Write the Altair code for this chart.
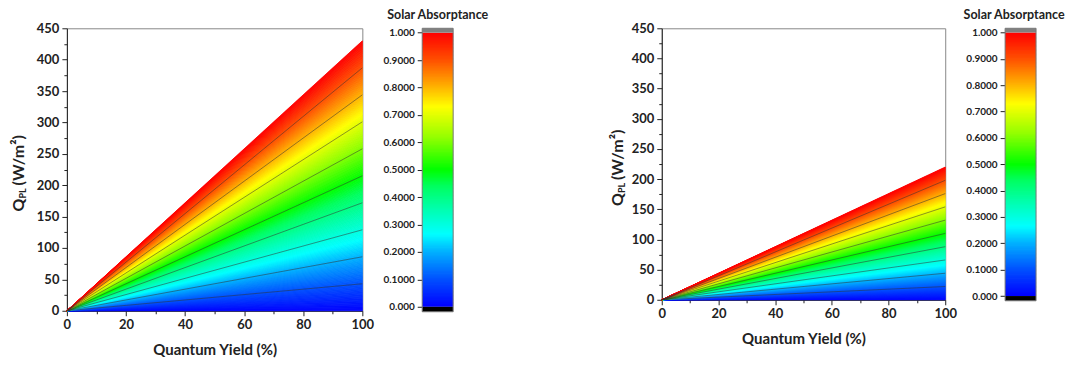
import altair as alt
import numpy as np
import pandas as pd

# ---------------- data ----------------
panel_q_max = [430, 220]          # Q_PL (W/m^2) at QY = 100 %, absorptance = 1
qy_range = [0, 100]               # Quantum yield extent (%)
contour_levels = [0.1, 0.2, 0.3, 0.4, 0.5, 0.6, 0.7, 0.8, 0.9]
cbar_ticks = [0.0, 0.1, 0.2, 0.3, 0.4, 0.5, 0.6, 0.7, 0.8, 0.9, 1.0]
x_ticks = [0, 10, 20, 30, 40, 50, 60, 70, 80, 90, 100]
y_ticks = [0, 25, 50, 75, 100, 125, 150, 175, 200, 225, 250, 275, 300,
           325, 350, 375, 400, 425, 450]
cmap_stops = [0.0, 0.10, 0.20, 0.265, 0.35, 0.44, 0.50, 0.62, 0.73, 0.82, 0.90, 1.0]
cmap_colors = ["#0000ff", "#0050ff", "#00b0ff", "#00ffff", "#00ffb4", "#00ff60",
               "#00ff00", "#96ff00", "#ffff00", "#ffa000", "#ff5000", "#ff0000"]
band_step = 0.005                 # resolution of the colour fill

FONT = "Lato"
TXT = "#222222"
XTITLE = "Quantum Yield (%)"
cscale = alt.Scale(domain=cmap_stops, range=cmap_colors, interpolate="rgb")

edges = np.round(np.arange(0, 1 + band_step / 2, band_step), 4)


def band_df(qmax):
    rows = []
    for i in range(len(edges) - 1):
        lo, hi = float(edges[i]), float(edges[i + 1])
        mid = (lo + hi) / 2
        rows.append(dict(band=i, a=mid, qy=qy_range[0], lo=0.0, hi=0.0))
        rows.append(dict(band=i, a=mid, qy=qy_range[1], lo=qmax * lo, hi=qmax * hi))
    return pd.DataFrame(rows)


def ylabel_piece(text, size, dx, dy):
    return alt.Chart(pd.DataFrame({"t": [0]})).mark_text(
        text=text, angle=270, align="left", baseline="middle",
        font=FONT, fontSize=size, fontWeight="bold", color=TXT
    ).encode(x=alt.value(dx), y=alt.value(dy))


def panel(qmax, w, h, tx):
    xs = alt.Scale(domain=qy_range, nice=False, zero=False)
    ys = alt.Scale(domain=[0, 450], nice=False)
    xaxis = alt.Axis(
        values=x_ticks, labelExpr="datum.value % 20 == 0 ? datum.label : ''",
        tickSize={"condition": {"test": "datum.value % 20 != 0", "value": 3}, "value": 5},
        labelPadding=3, labelFontSize=13, titleFontSize=15, titlePadding=11,
        labelFlush=False, labelOverlap=False, grid=False, title=XTITLE)
    yaxis = alt.Axis(
        values=y_ticks, labelExpr="datum.value % 50 == 0 ? datum.label : ''",
        tickSize={"condition": {"test": "datum.value % 50 != 0", "value": 3}, "value": 5},
        labelPadding=3, labelFontSize=13, labelFlush=False, labelOverlap=False,
        grid=False, title=None)
    bands = alt.Chart(band_df(qmax)).mark_area(strokeWidth=0.8).encode(
        x=alt.X("qy:Q", scale=xs, axis=xaxis),
        y=alt.Y("lo:Q", scale=ys, axis=yaxis),
        y2="hi:Q",
        fill=alt.Fill("a:Q", scale=cscale, legend=None),
        stroke=alt.Stroke("a:Q", scale=cscale, legend=None),
        detail="band:N",
    )
    cdf = pd.DataFrame({"level": contour_levels})
    cdf["x0"] = qy_range[0]
    cdf["y0"] = 0.0
    cdf["x1"] = qy_range[1]
    cdf["y1"] = qmax * cdf["level"]
    lines = alt.Chart(cdf).mark_rule(color="#333333", strokeWidth=0.7, opacity=0.75).encode(
        x=alt.X("x0:Q", scale=xs, axis=xaxis), y=alt.Y("y0:Q", scale=ys, axis=yaxis),
        x2="x1:Q", y2="y1:Q")
    c = h / 2
    title = [
        ylabel_piece("Q", 16, tx, c + 42),
        ylabel_piece("PL", 9, tx + 4, c + 29),
        ylabel_piece("(W/m²)", 16, tx, c + 16),
    ]
    return alt.layer(bands, lines, *title).properties(
        width=w, height=h, view=alt.ViewBackground(stroke="#888888", strokeWidth=1))


def colorbar(h, bar_w, chart_w, title_x):
    cap = 0.016
    ys = alt.Scale(domain=[-cap - 0.002, 1 + cap], nice=False, zero=False)
    yaxis = alt.Axis(
        values=cbar_ticks,
        labelExpr="datum.value == 0 ? '0.000' : (datum.value == 1 ? '1.000' : format(datum.value, '.4f'))",
        tickSize=5, labelPadding=3, labelFontSize=10, domain=False, grid=False,
        labelFlush=False, labelOverlap=False, title=None)
    cb = pd.DataFrame({"lo": edges[:-1], "hi": edges[1:]})
    cb["a"] = (cb["lo"] + cb["hi"]) / 2
    cb["hi2"] = np.minimum(cb["hi"] + band_step * 0.6, 1.0)
    rects = alt.Chart(cb).mark_rect().encode(
        y=alt.Y("lo:Q", scale=ys, axis=yaxis), y2="hi2:Q",
        x=alt.value(0), x2=alt.value(bar_w),
        fill=alt.Fill("a:Q", scale=cscale, legend=None))
    caps_df = pd.DataFrame({"lo": [1.0, -cap - 0.002], "hi": [1 + cap, 0.0],
                            "c": ["#808080", "#000000"]})
    caps = alt.Chart(caps_df).mark_rect().encode(
        y=alt.Y("lo:Q", scale=ys, axis=yaxis), y2="hi:Q",
        x=alt.value(0), x2=alt.value(bar_w),
        fill=alt.Fill("c:N", scale=None, legend=None))
    frame = alt.Chart(pd.DataFrame({"lo": [-cap - 0.002], "hi": [1 + cap]})).mark_rect(
        fillOpacity=0, stroke="#777777", strokeWidth=1).encode(
        y=alt.Y("lo:Q", scale=ys, axis=yaxis), y2="hi:Q",
        x=alt.value(0), x2=alt.value(bar_w))
    ttl = alt.Chart(pd.DataFrame({"t": ["Solar Absorptance"]})).mark_text(
        align="center", baseline="middle", font=FONT, fontSize=12.5,
        fontWeight="bold", color=TXT).encode(
        text="t:N", x=alt.value(title_x), y=alt.value(-13))
    return alt.layer(rects, caps, frame, ttl).properties(
        width=chart_w, height=h, view=alt.ViewBackground(stroke="transparent"))


p1 = panel(panel_q_max[0], 296, 283, -48)
cb1 = colorbar(284, 31, 180, 15.5)
p2 = panel(panel_q_max[1], 284, 272, -44)
cb2 = colorbar(273, 31, 40, 9)

chart = alt.hconcat(p1, cb1, p2, cb2, spacing=60, bounds="flush").properties(
    padding={"left": 2, "top": 0, "right": 0, "bottom": 0}
).configure_axis(
    labelFont=FONT, titleFont=FONT, labelFontWeight="bold", titleFontWeight="bold",
    labelColor=TXT, titleColor=TXT, domainColor=TXT, tickColor=TXT
)

chart.save("out.html", embed_options={"renderer": "svg", "actions": False})
